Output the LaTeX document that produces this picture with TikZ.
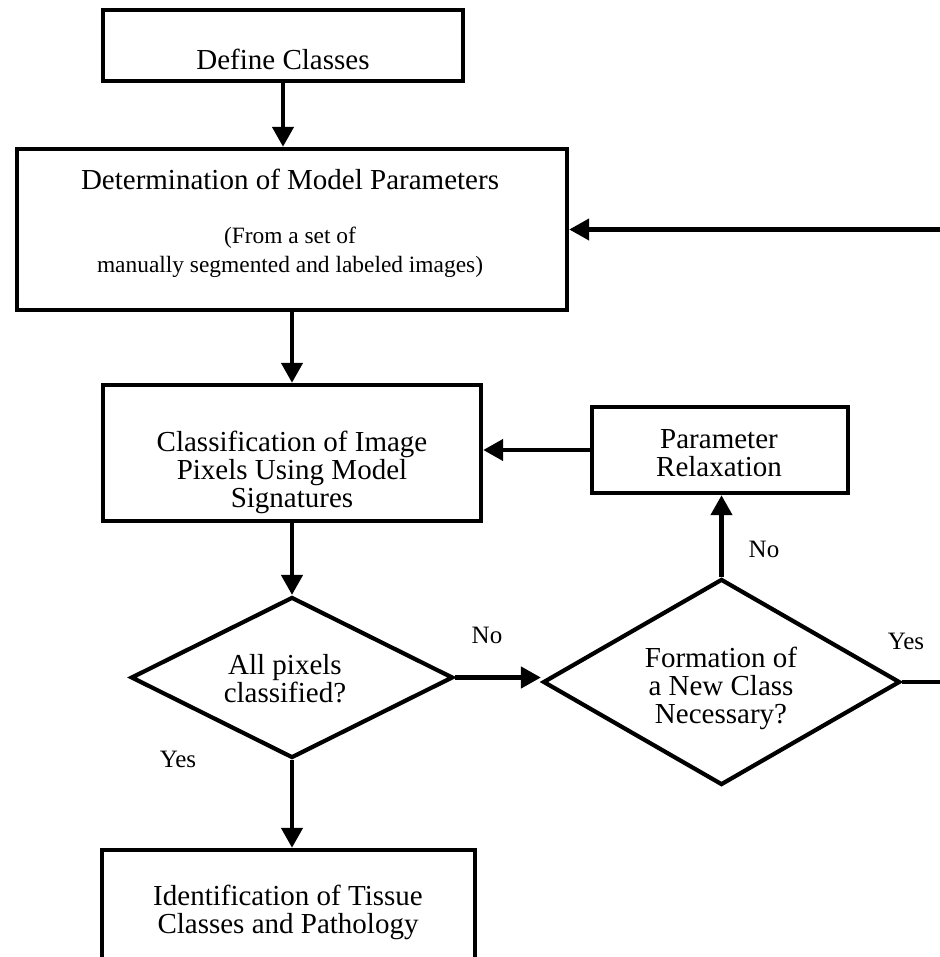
\documentclass[tikz,border=0pt]{standalone}
\usepackage{fontspec}
\setmainfont{Liberation Serif}
\usetikzlibrary{shapes.geometric,arrows.meta}

\tikzset{
  box/.style={draw, rectangle, line width=2.2pt, inner sep=0pt},
  decision/.style={draw, diamond, line width=2.1pt, inner sep=0pt},
  txt/.style={align=center, inner sep=0pt, font=\fontsize{14.5}{14}\selectfont},
  note/.style={align=center, inner sep=0pt, font=\fontsize{11.7}{14.5}\selectfont},
  lbl/.style={anchor=base, inner sep=0pt, font=\fontsize{12.5}{14}\selectfont},
  flow/.style={draw, line width=2.2pt, -{Triangle[length=10pt,width=10.5pt]}},
}

\begin{document}
\begin{tikzpicture}[x=0.5pt,y=-0.5pt]
                \useasboundingbox (0,0) rectangle (940,957);
                \clip (0,0) rectangle (940,957);

                % boxes
                \node[box,minimum width=180pt,minimum height=35.5pt] (define) at (283,45.5) {};
                \node[box,minimum width=275pt,minimum height=80.5pt] (det) at (292,229.5) {};
                \node[box,minimum width=189pt,minimum height=68pt] (classify) at (292,453) {};
                \node[box,minimum width=128pt,minimum height=43pt] (relax) at (720,450) {};
                \node[box,minimum width=186.5pt,minimum height=75pt] (result) at (288.5,925) {};

                % decisions
                \node[decision,minimum width=161pt,minimum height=80.5pt] (allDone) at (292,677.5) {};
                \node[decision,minimum width=178.5pt,minimum height=103pt] (newClass) at (721.5,682) {};

                % texts
                \node[txt,anchor=base] (defineTxt) at (283,70) {Define Classes};
                \node[txt,anchor=base] (detTxt) at (290,190) {Determination of Model Parameters};
                \node[note] (detNote) at (290,252) {(From a set of\\manually segmented and labeled images)};
                \node[txt] (classifyTxt) at (292,472) {Classification of Image\\Pixels Using Model\\Signatures};
                \node[txt] (relaxTxt) at (719,453.5) {Parameter\\Relaxation};
                \node[txt] (allDoneTxt) at (285,679) {All pixels\\classified?};
                \node[txt] (newClassTxt) at (721,688) {Formation of\\a New Class\\Necessary?};
                \node[txt] (resultTxt) at (288,912) {Identification of Tissue\\Classes and Pathology};

                % edge labels
                \node[lbl] (noA) at (487,643) {No};
                \node[lbl] (noB) at (764,557) {No};
                \node[lbl] (yesA) at (178,767) {Yes};
                \node[lbl] (yesB) at (906,649) {Yes};

                \coordinate (fbIn) at (940,229.5);
                \coordinate (yesOut) at (940,682);

                \path[flow] (define.south) -- (define.south |- det.north);
                \path[flow] (det.south) -- (classify.north);
                \path[flow] (classify.south) -- (allDone.north);
                \path[flow] (allDone.south) -- (allDone.south |- result.north);
                \path[flow] (allDone.east) -- (allDone.east -| newClass.west);
                \path[flow] (newClass.north) -- (newClass.north |- relax.south);
                \path[flow] (relax.west) -- (relax.west -| classify.east);
                \path[flow] (fbIn) -- (det.east);
                \path[draw,line width=2.2pt] (newClass.east) -- (yesOut);

\end{tikzpicture}
\end{document}
